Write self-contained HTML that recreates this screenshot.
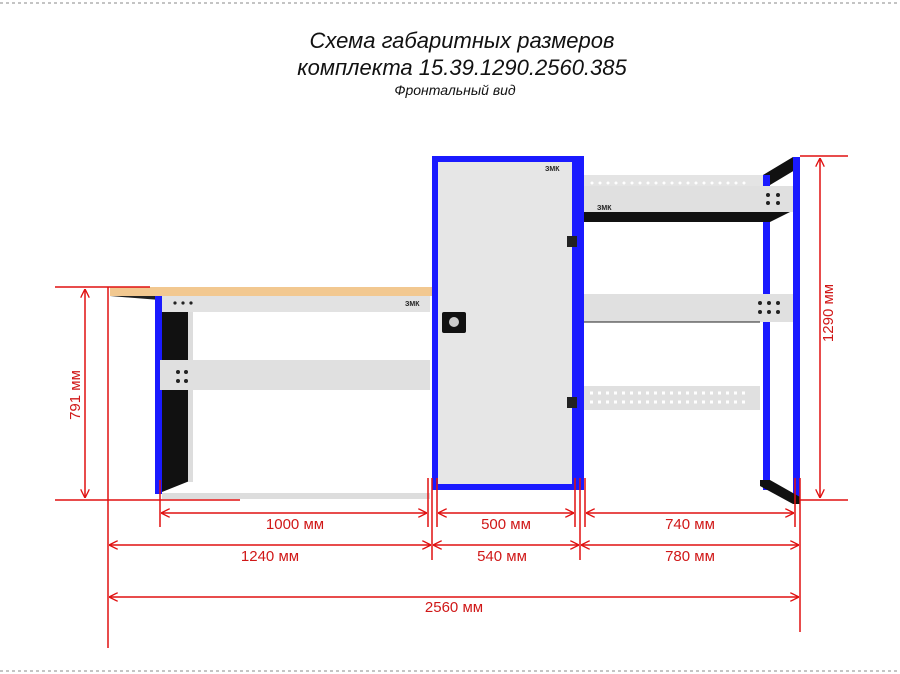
<!DOCTYPE html>
<html><head><meta charset="utf-8"><style>
html,body{margin:0;padding:0;background:#fff;}
svg{display:block;}
</style></head><body>
<svg width="900" height="674" viewBox="0 0 900 674" xmlns="http://www.w3.org/2000/svg" font-family="Liberation Sans, sans-serif">
<defs>
<marker id="a" viewBox="0 0 10 10" refX="10" refY="5" markerWidth="9" markerHeight="9" orient="auto-start-reverse" markerUnits="userSpaceOnUse"><path d="M0,0 L10,5 L0,10" fill="none" stroke="#e01010" stroke-width="1.5"/></marker>
</defs>
<line x1="0" y1="3" x2="900" y2="3" stroke="#888" stroke-dasharray="3,3"/>
<line x1="0" y1="671" x2="900" y2="671" stroke="#888" stroke-dasharray="3,3"/>
<g font-style="italic" fill="#111" text-anchor="middle">
<text x="462" y="48" font-size="22">Схема габаритных размеров</text>
<text x="462" y="75" font-size="22">комплекта 15.39.1290.2560.385</text>
<text x="455" y="95" font-size="14">Фронтальный вид</text>
</g>
<!-- workbench -->
<polygon points="110,296 160,294 160,300" fill="#222"/>
<rect x="110" y="287" width="322" height="9" fill="#f2c890"/>
<rect x="155" y="296" width="7" height="198" fill="#1a1aff"/>
<polygon points="162,310 192,310 192,480 162,492" fill="#111"/>
<rect x="188" y="312" width="5" height="170" fill="#ddd"/>
<rect x="162" y="296" width="268" height="16" fill="#e2e2e2"/>
<text x="405" y="306" font-size="7" font-weight="bold" fill="#222">ЗМК</text>
<rect x="160" y="360" width="270" height="30" fill="#e0e0e0"/>
<g fill="#222"><circle cx="178" cy="372" r="2"/><circle cx="186" cy="372" r="2"/><circle cx="178" cy="381" r="2"/><circle cx="186" cy="381" r="2"/>
<circle cx="175" cy="303" r="1.6"/><circle cx="183" cy="303" r="1.6"/><circle cx="191" cy="303" r="1.6"/></g>
<rect x="162" y="493" width="268" height="6" fill="#ddd"/>
<!-- cabinet -->
<rect x="432" y="156" width="152" height="334" fill="#1a1aff"/>
<rect x="438" y="162" width="134" height="322" fill="#e6e6e6"/>
<text x="545" y="171" font-size="7" font-weight="bold" fill="#222">ЗМК</text>
<rect x="442" y="312" width="24" height="21" rx="2" fill="#111"/>
<circle cx="454" cy="322" r="5" fill="#ccc"/>
<rect x="567" y="236" width="10" height="11" fill="#222"/>
<rect x="567" y="397" width="10" height="11" fill="#222"/>
<!-- right rack -->
<rect x="584" y="175" width="180" height="14" fill="#e4e4e4"/>
<polygon points="763,175 793,157 800,157 800,167 770,185 770,175" fill="#111"/>
<rect x="793" y="157" width="7" height="343" fill="#1a1aff"/>
<rect x="763" y="175" width="7" height="315" fill="#1a1aff"/>
<rect x="584" y="186" width="209" height="26" fill="#e0e0e0"/>
<text x="597" y="210" font-size="7" font-weight="bold" fill="#222">ЗМК</text>
<polygon points="584,212 790,212 770,222 584,222" fill="#111"/>
<rect x="584" y="294" width="209" height="28" fill="#e0e0e0"/>
<line x1="584" y1="322" x2="760" y2="322" stroke="#222"/>
<rect x="584" y="386" width="176" height="24" fill="#e0e0e0"/>
<polygon points="760,480 770,480 800,497 800,504 793,504 760,486" fill="#111"/>
<g fill="#222"><circle cx="768" cy="195" r="2"/><circle cx="778" cy="195" r="2"/><circle cx="768" cy="203" r="2"/><circle cx="778" cy="203" r="2"/>
<circle cx="760" cy="303" r="2"/><circle cx="769" cy="303" r="2"/><circle cx="778" cy="303" r="2"/><circle cx="760" cy="312" r="2"/><circle cx="769" cy="312" r="2"/><circle cx="778" cy="312" r="2"/></g>
<g fill="#fff">
<circle cx="592" cy="183" r="1.5"/><circle cx="600" cy="183" r="1.5"/><circle cx="608" cy="183" r="1.5"/><circle cx="616" cy="183" r="1.5"/><circle cx="624" cy="183" r="1.5"/><circle cx="632" cy="183" r="1.5"/><circle cx="640" cy="183" r="1.5"/><circle cx="648" cy="183" r="1.5"/><circle cx="656" cy="183" r="1.5"/><circle cx="664" cy="183" r="1.5"/><circle cx="672" cy="183" r="1.5"/><circle cx="680" cy="183" r="1.5"/><circle cx="688" cy="183" r="1.5"/><circle cx="696" cy="183" r="1.5"/><circle cx="704" cy="183" r="1.5"/><circle cx="712" cy="183" r="1.5"/><circle cx="720" cy="183" r="1.5"/><circle cx="728" cy="183" r="1.5"/><circle cx="736" cy="183" r="1.5"/><circle cx="744" cy="183" r="1.5"/>
</g>
<g stroke="#fff" stroke-width="3" stroke-dasharray="3,5"><line x1="590" y1="393" x2="750" y2="393"/><line x1="590" y1="402" x2="750" y2="402"/></g>
<!-- dimensions -->
<g stroke="#e01010" stroke-width="1.5" fill="none">
<line x1="55" y1="287" x2="150" y2="287"/><line x1="55" y1="500" x2="240" y2="500"/>
<line x1="85" y1="289" x2="85" y2="498" marker-start="url(#a)" marker-end="url(#a)"/>
<line x1="108" y1="287" x2="108" y2="648"/>
<line x1="800" y1="156" x2="848" y2="156"/><line x1="800" y1="500" x2="848" y2="500"/>
<line x1="820" y1="158" x2="820" y2="498" marker-start="url(#a)" marker-end="url(#a)"/>
<line x1="160" y1="480" x2="160" y2="527"/><line x1="428" y1="478" x2="428" y2="527"/>
<line x1="432" y1="478" x2="432" y2="560"/><line x1="437" y1="478" x2="437" y2="527"/>
<line x1="575" y1="478" x2="575" y2="527"/><line x1="580" y1="478" x2="580" y2="560"/>
<line x1="585" y1="478" x2="585" y2="527"/><line x1="795" y1="478" x2="795" y2="527"/>
<line x1="800" y1="478" x2="800" y2="632"/>
<line x1="161" y1="513" x2="427" y2="513" marker-start="url(#a)" marker-end="url(#a)"/>
<line x1="438" y1="513" x2="574" y2="513" marker-start="url(#a)" marker-end="url(#a)"/>
<line x1="586" y1="513" x2="794" y2="513" marker-start="url(#a)" marker-end="url(#a)"/>
<line x1="109" y1="545" x2="431" y2="545" marker-start="url(#a)" marker-end="url(#a)"/>
<line x1="433" y1="545" x2="579" y2="545" marker-start="url(#a)" marker-end="url(#a)"/>
<line x1="581" y1="545" x2="799" y2="545" marker-start="url(#a)" marker-end="url(#a)"/>
<line x1="109" y1="597" x2="799" y2="597" marker-start="url(#a)" marker-end="url(#a)"/>
</g>
<g fill="#d01818" font-size="15" text-anchor="middle">
<text x="295" y="529">1000 мм</text>
<text x="506" y="529">500 мм</text>
<text x="690" y="529">740 мм</text>
<text x="270" y="561">1240 мм</text>
<text x="502" y="561">540 мм</text>
<text x="690" y="561">780 мм</text>
<text x="454" y="612">2560 мм</text>
<text transform="translate(80,395) rotate(-90)">791 мм</text>
<text transform="translate(833,313) rotate(-90)">1290 мм</text>
</g>
</svg>
</body></html>
